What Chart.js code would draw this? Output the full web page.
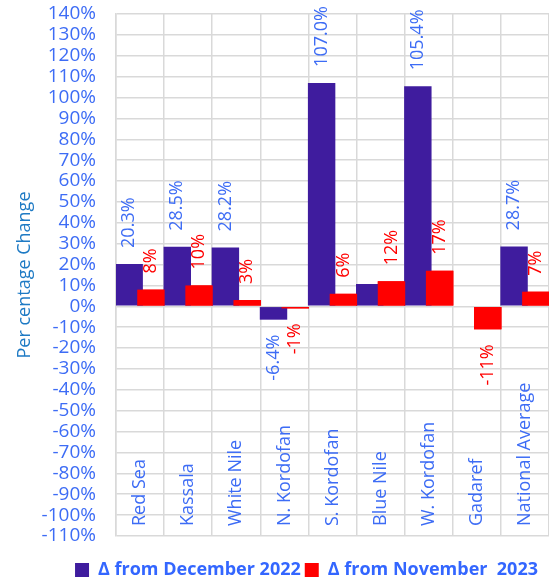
<!DOCTYPE html>
<html>
<head>
<meta charset="utf-8">
<script src="https://cdn.jsdelivr.net/npm/chart.js@4"></script>
<style>
  html, body { margin: 0; padding: 0; background: #fff; }
  #wrap { width: 549px; height: 582px; }
</style>
</head>
<body>
<div id="wrap"><canvas id="changeChart"></canvas></div>
<script>
// categories and values
const regions = ['Red Sea', 'Kassala', 'White Nile', 'N. Kordofan', 'S. Kordofan', 'Blue Nile', 'W. Kordofan', 'Gadaref', 'National Average'];
const fromDec2022 = [20.3, 28.5, 28.2, -6.4, 107.0, 10.7, 105.4, null, 28.7];
const fromNov2023 = [8, 10, 3, -1, 6, 12, 17, -11, 7];
const decLabels = ['20.3%', '28.5%', '28.2%', '-6.4%', '107.0%', '', '105.4%', '', '28.7%'];
const novLabels = ['8%', '10%', '3%', '-1%', '6%', '12%', '17%', '-11%', '7%'];

const tickBlue = '#3D6CF5';
const fontName = '"Open Sans"';

// value labels and the region names drawn inside the plot, rotated
const barLabels = {
  id: 'barLabels',
  afterLayout(chart) {
    // legend sits a bit right of the canvas centre
    chart.legend.left += 32;
    chart.legend.right += 32;
  },
  afterDatasetsDraw(chart) {
    const ctx = chart.ctx;
    // red bars overlap the blue ones, so draw them again on top
    chart.getDatasetMeta(1).controller.draw();

    ctx.save();
    ctx.font = '18px ' + fontName;
    ctx.textBaseline = 'middle';
    const sets = [[0, decLabels, tickBlue], [1, novLabels, '#FF0000']];
    sets.forEach(([idx, texts, color]) => {
      const meta = chart.getDatasetMeta(idx);
      meta.data.forEach((bar, i) => {
        if (!texts[i]) return;
        const val = chart.data.datasets[idx].data[i];
        ctx.save();
        ctx.fillStyle = color;
        if (val >= 0) {
          ctx.translate(bar.x, bar.y - 16);
          ctx.rotate(-Math.PI / 2);
          ctx.textAlign = 'left';
        } else {
          ctx.translate(bar.x, bar.y + 15);
          ctx.rotate(-Math.PI / 2);
          ctx.textAlign = 'right';
        }
        ctx.fillText(texts[i], 0, 0);
        ctx.restore();
      });
    });

    const xs = chart.scales.x;
    const bottom = chart.chartArea.bottom;
    ctx.fillStyle = tickBlue;
    regions.forEach((name, i) => {
      ctx.save();
      ctx.translate(xs.getPixelForValue(i), bottom - 10);
      ctx.rotate(-Math.PI / 2);
      ctx.textAlign = 'left';
      ctx.fillText(name, 0, 0);
      ctx.restore();
    });
    ctx.restore();
  }
};

const ctx = document.getElementById('changeChart').getContext('2d');

const changeChart = new Chart(ctx, {
  type: 'bar',
  data: {
    labels: regions,
    datasets: [{
      label: 'Δ from December 2022',
      data: fromDec2022,
      backgroundColor: '#3F1C9E',
      borderWidth: 0
    }, {
      label: 'Δ from November  2023',
      data: fromNov2023,
      backgroundColor: '#FF0000',
      borderWidth: 0
    }]
  },
  options: {
    responsive: true,
    maintainAspectRatio: false,
    animation: false,
    categoryPercentage: 0.905,
    barPercentage: 1.26,
    layout: { padding: { top: 14, left: 0, right: 0, bottom: -7 } },
    plugins: {
      tooltip: { enabled: false },
      legend: {
        position: 'bottom',
        labels: {
          boxWidth: 14,
          boxHeight: 14,
          padding: 4,
          color: '#3366FF',
          font: { family: fontName, size: 18, weight: 'bold' }
        }
      }
    },
    scales: {
      x: {
        grid: { color: '#D9D9D9', lineWidth: 1.5, drawTicks: false, offset: true },
        border: { display: false },
        ticks: { display: false },
        afterFit: (s) => { s.height = 21; s.paddingLeft = 0; s.paddingRight = 0; }
      },
      y: {
        min: -110,
        max: 140,
        grid: { color: '#D9D9D9', lineWidth: 1.5, drawTicks: false },
        border: { color: '#D9D9D9', width: 1.5 },
        ticks: {
          stepSize: 10,
          autoSkip: false,
          padding: 20,
          color: tickBlue,
          font: { family: fontName, size: 19 },
          callback: (v) => v + '%'
        },
        title: {
          display: true,
          text: 'Per centage Change',
          color: '#1E7AC4',
          font: { family: fontName, size: 18 },
          padding: { top: 14, bottom: 0 }
        },
        afterFit: (s) => { s.width = 116; s.paddingTop = 0; s.paddingBottom = 0; }
      }
    }
  },
  plugins: [barLabels]
});
</script>
</body>
</html>
